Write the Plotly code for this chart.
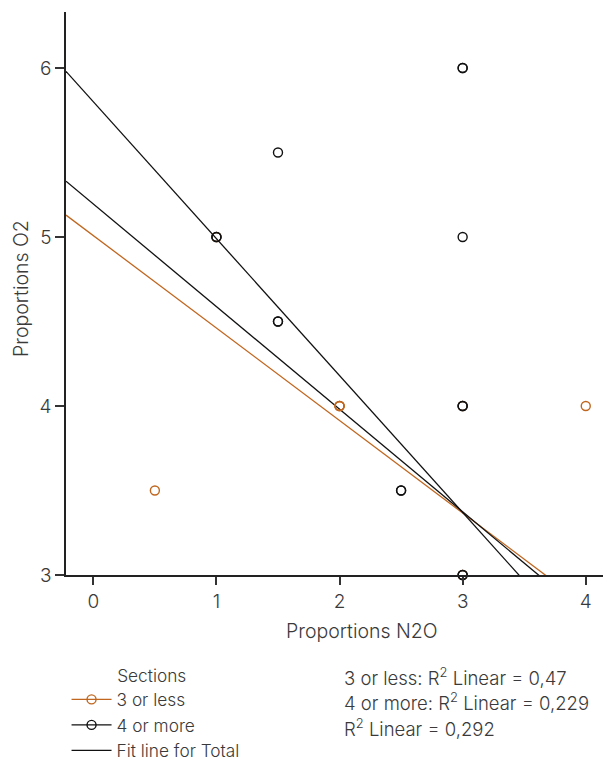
import plotly.graph_objects as go
import numpy as np

# ---- data ----
less_x = [0.5, 1, 3, 3, 2, 2, 4]
less_y = [3.5, 5, 4, 3, 4, 4, 4]
more_x = [1, 1, 1.5, 1.5, 1.5, 2.5, 2.5, 3, 3, 3, 3, 3, 3, 3]
more_y = [5, 5, 5.5, 4.5, 4.5, 3.5, 3.5, 6, 6, 5, 4, 4, 3, 3]

fit_names = ["3 or less", "Total", "4 or more"]
fit_intercept = [5.008, 5.195, 5.80]
fit_slope = [-0.547, -0.607, -0.810]
fit_r2 = ["0,47", "0,292", "0,229"]

x_ticks = [0, 1, 2, 3, 4]
y_ticks = [3, 4, 5, 6]

ORANGE = "#C0661E"
BLACK = "#111111"
TXT = "#3a3a3a"
FONT = "Inter"
W = 300

x_range = [-0.222, 4.205]
y_range = [3, 6.331]

fig = go.Figure()

fit_colors = {"3 or less": ORANGE, "Total": BLACK, "4 or more": BLACK}
xs = np.array(x_range)
for name, a, b in zip(fit_names, fit_intercept, fit_slope):
    fig.add_trace(go.Scatter(x=xs, y=a + b * xs, mode="lines",
                             line=dict(color=fit_colors[name], width=1.3),
                             showlegend=False, hoverinfo="skip"))

fig.add_trace(go.Scatter(x=less_x, y=less_y, mode="markers", cliponaxis=False,
                         marker=dict(symbol="circle-open", size=9, color=ORANGE,
                                     line=dict(width=1.4, color=ORANGE)),
                         showlegend=False))
fig.add_trace(go.Scatter(x=more_x, y=more_y, mode="markers", cliponaxis=False,
                         marker=dict(symbol="circle-open", size=9, color=BLACK,
                                     line=dict(width=1.4, color=BLACK)),
                         showlegend=False))
fig.add_trace(go.Scatter(x=[2], y=[4], mode="markers", cliponaxis=False,
                         marker=dict(symbol="circle-open", size=9, color=ORANGE,
                                     line=dict(width=1.6, color=ORANGE)),
                         showlegend=False))

# legend entries
fig.add_trace(go.Scatter(x=[None], y=[None], mode="lines+markers", name="3 or less",
                         line=dict(color=ORANGE, width=1.3),
                         marker=dict(symbol="circle-open", size=9, color=ORANGE,
                                     line=dict(width=1.4, color=ORANGE))))
fig.add_trace(go.Scatter(x=[None], y=[None], mode="lines+markers", name="4 or more",
                         line=dict(color=BLACK, width=1.3),
                         marker=dict(symbol="circle-open", size=9, color=BLACK,
                                     line=dict(width=1.4, color=BLACK))))
fig.add_trace(go.Scatter(x=[None], y=[None], mode="lines", name="Fit line for Total",
                         line=dict(color=BLACK, width=1.3)))

# page body adds an 8px margin; figure is sized to fit the 611x761 window
fig.update_layout(
    width=603, height=753,
    margin=dict(l=58, r=0, t=4, b=186, autoexpand=False),
    paper_bgcolor="white", plot_bgcolor="white",
    font=dict(family=FONT, size=17, color=TXT, weight=W),
    showlegend=True,
    legend=dict(x=0.001, y=-0.1495, xanchor="left", yanchor="top",
                bgcolor="rgba(0,0,0,0)", tracegroupgap=0, itemwidth=40,
                font=dict(size=17.3, color=TXT, weight=W),
                title=dict(text="\u00a0" * 10 + "Sections",
                           font=dict(size=17.3, color=TXT, weight=W))),
    xaxis=dict(range=x_range, tickvals=x_ticks, ticks="outside", ticklen=8,
               tickwidth=1.5, tickcolor="#333", showline=True, linecolor="#222",
               linewidth=1.5, showgrid=False, zeroline=False,
               tickfont=dict(size=19, color=TXT, weight=W)),
    yaxis=dict(range=y_range, tickvals=y_ticks, ticks="outside", ticklen=9,
               tickwidth=1.5, tickcolor="#333", showline=True, linecolor="#222",
               linewidth=1.5, showgrid=False, zeroline=False,
               tickfont=dict(size=19, color=TXT, weight=W)),
)

fig.add_annotation(text="Proportions N2O", xref="paper", yref="paper",
                   x=(362 - 66) / 545, y=-(631 - 575) / 563, xanchor="center",
                   yanchor="middle", showarrow=False,
                   font=dict(size=19.5, color=TXT, weight=W))
fig.add_annotation(text="Proportions O2", xref="paper", yref="paper",
                   x=-(66 - 21) / 545, y=(575 - 289) / 563, xanchor="center",
                   yanchor="middle", textangle=-90, showarrow=False,
                   font=dict(size=19.5, color=TXT, weight=W))

r2_lines = [f"3 or less: R<sup>2</sup> Linear = {fit_r2[0]}",
            f"4 or more: R<sup>2</sup> Linear = {fit_r2[2]}",
            f"R<sup>2</sup> Linear = {fit_r2[1]}"]
for i, t in enumerate(r2_lines):
    ypx = 676 + i * 25.5
    fig.add_annotation(text=t, xref="paper", yref="paper",
                       x=(342 - 66) / 545, y=-(ypx - 575) / 563,
                       xanchor="left", yanchor="middle", showarrow=False,
                       font=dict(size=18.5, color=TXT, weight=W))

fig.write_html("out.html")
